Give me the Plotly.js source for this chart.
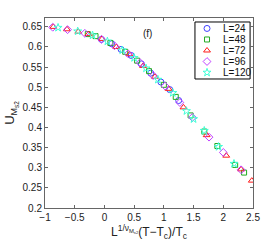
<!DOCTYPE html>
<html>
<head>
<meta charset="utf-8">
<script src="https://cdn.plot.ly/plotly-3.0.1.min.js"></script>
<style>html,body{margin:0;padding:0;background:#fff;}#chart{width:280px;height:241px;}</style>
</head>
<body>
<div id="chart"></div>
<script>
var seriesNames = ["L=24", "L=48", "L=72", "L=96", "L=120"];

var x24 = [-0.05, 0.12, 0.28, 0.45, 0.62, 0.78, 0.95, 1.1, 1.25];
var y24 = [0.619, 0.608, 0.594, 0.579, 0.558, 0.535, 0.513, 0.494, 0.467];

var x48 = [-0.28, -0.15, 0.1, 0.35, 0.55, 0.75, 1.0, 1.2, 1.45, 1.68, 1.9, 2.2, 2.35];
var y48 = [0.632, 0.627, 0.610, 0.588, 0.566, 0.540, 0.506, 0.476, 0.430, 0.390, 0.354, 0.307, 0.288];

var x72 = [-0.86, -0.63, -0.44, -0.27, -0.04, 0.2, 0.42, 0.65, 0.85, 1.08, 1.33, 1.72, 2.05, 2.3, 2.48];
var y72 = [0.650, 0.644, 0.638, 0.632, 0.620, 0.600, 0.582, 0.553, 0.526, 0.496, 0.450, 0.381, 0.330, 0.296, 0.268];

var x96 = [-0.87, -0.62, -0.33, -0.05, 0.17, 0.4, 0.6, 0.82, 1.02, 1.27, 1.48, 1.76, 2.0, 2.3];
var y96 = [0.649, 0.643, 0.634, 0.619, 0.603, 0.583, 0.561, 0.529, 0.503, 0.462, 0.425, 0.376, 0.338, 0.295];

var x120 = [-0.78, -0.45, -0.2, 0.05, 0.3, 0.5, 0.7, 0.9, 1.15, 1.38, 1.5, 1.68, 1.92, 2.18];
var y120 = [0.648, 0.639, 0.629, 0.614, 0.592, 0.573, 0.547, 0.519, 0.486, 0.441, 0.421, 0.392, 0.352, 0.310];

var xTicks = [-1, -0.5, 0, 0.5, 1, 1.5, 2, 2.5];
var xTickText = ["\u22121", "\u22120.5", "0", "0.5", "1", "1.5", "2", "2.5"];
var yTicks = [0.2, 0.25, 0.3, 0.35, 0.4, 0.45, 0.5, 0.55, 0.6, 0.65];
var yTickText = ["0.2", "0.25", "0.3", "0.35", "0.4", "0.45", "0.5", "0.55", "0.6", "0.65"];

var xs = [x24, x48, x72, x96, x120];
var ys = [y24, y48, y72, y96, y120];
var symbols = ["circle-open", "square-open", "triangle-up-open", "diamond-open", "star-open"];
var colors = ["#4040ff", "#22aa22", "#ff1a1a", "#c040ff", "#40ffd8"];
var sizes = [6, 5, 6, 6, 6];

// legend box placement (paper fractions of the plot area)
var legX0 = 0.721, legX1 = 0.986, legY0 = 0.679, legY1 = 0.979;
var legMarkX = 0.779, legTextX = 0.845;
var legRowTop = 0.945, legRowStep = 0.058;

var traces = [];
var annotations = [];
for (var i = 0; i < 5; i++) {
  traces.push({
    x: xs[i], y: ys[i], name: seriesNames[i], type: "scatter", mode: "markers",
    showlegend: false,
    marker: {symbol: symbols[i], color: colors[i], size: sizes[i], line: {width: 1, color: colors[i]}}
  });
}
for (var j = 0; j < 5; j++) {
  var ry = legRowTop - j * legRowStep;
  traces.push({
    x: [legMarkX], y: [ry], xaxis: "x2", yaxis: "y2", type: "scatter", mode: "markers",
    showlegend: false, hoverinfo: "skip", name: seriesNames[j] + " key",
    marker: {symbol: symbols[j], color: colors[j], size: sizes[j], line: {width: 1, color: colors[j]}}
  });
  annotations.push({text: seriesNames[j], xref: "paper", yref: "paper", x: legTextX, y: ry,
                    xanchor: "left", yanchor: "middle", showarrow: false,
                    font: {size: 10, color: "#111"}});
}
annotations.push({text: "(f)", xref: "paper", yref: "paper", x: 0.495, y: 0.96, showarrow: false,
                  font: {size: 10, color: "#222"}});

var layout = {
  width: 280, height: 241,
  margin: {l: 45, r: 27, t: 18, b: 33},
  paper_bgcolor: "#fff", plot_bgcolor: "#fff",
  font: {family: "Liberation Sans, Arial, sans-serif", size: 10, color: "#222"},
  showlegend: false,
  xaxis: {range: [-1, 2.5], tickvals: xTicks, ticktext: xTickText, ticks: "inside", ticklen: 3,
          tickcolor: "#666", showline: true, linecolor: "#666", linewidth: 1, mirror: "ticks",
          showgrid: false, zeroline: false, tickfont: {size: 10, color: "#222"},
          title: {text: "L<sup>1/\u03bd<sub>M<sub>s2</sub></sub></sup>(T\u2212T<sub>c</sub>)/T<sub>c</sub>",
                  font: {size: 12, color: "#222"}, standoff: 3}},
  yaxis: {range: [0.2, 0.672], tickvals: yTicks, ticktext: yTickText, ticks: "inside", ticklen: 3,
          tickcolor: "#666", showline: true, linecolor: "#666", linewidth: 1, mirror: "ticks",
          showgrid: false, zeroline: false, tickfont: {size: 10, color: "#222"},
          title: {text: "U<sub>M<sub>s2</sub></sub>", font: {size: 13, color: "#222"}, standoff: 4}},
  xaxis2: {overlaying: "x", range: [0, 1], visible: false, fixedrange: true},
  yaxis2: {overlaying: "y", range: [0, 1], visible: false, fixedrange: true},
  shapes: [{type: "rect", xref: "paper", yref: "paper", x0: legX0, x1: legX1, y0: legY0, y1: legY1,
            line: {color: "#000", width: 1}, fillcolor: "#fff", layer: "below"}],
  annotations: annotations
};

Plotly.newPlot("chart", traces, layout, {displayModeBar: false, staticPlot: true});
</script>
</body>
</html>
